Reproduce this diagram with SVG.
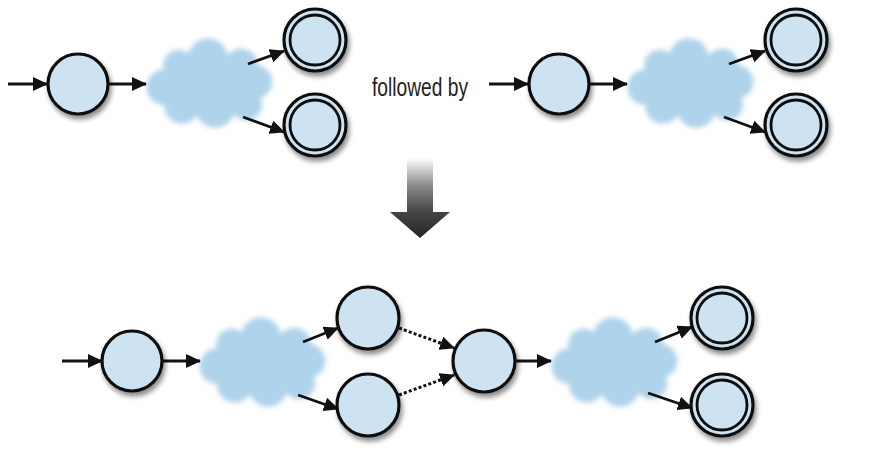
<svg xmlns="http://www.w3.org/2000/svg" xmlns:xlink="http://www.w3.org/1999/xlink" width="882" height="466" viewBox="0 0 882 466">
<style>
.st{fill:#cde3f1;stroke:#111;stroke-width:3.2}
.inner{fill:none;stroke:#111;stroke-width:2.8}
.edge{stroke:#111;stroke-width:2.8;fill:none;marker-end:url(#ah)}
.dot{stroke:#111;stroke-width:3;fill:none;stroke-dasharray:3 2.2;marker-end:url(#ah)}
.lbl{font-family:"Liberation Sans",Arial,sans-serif;font-size:25px;fill:#231f20}
</style>
<defs>
<marker id="ah" markerUnits="userSpaceOnUse" markerWidth="15" markerHeight="14" refX="14" refY="7" orient="auto">
<path d="M0,0 L15,7 L0,14 z" fill="#111"/>
</marker>
<filter id="sh" x="-30%" y="-30%" width="170%" height="170%">
<feDropShadow dx="2" dy="4" stdDeviation="2.5" flood-color="#000" flood-opacity="0.45"/>
</filter>
<filter id="blur" x="-20%" y="-20%" width="140%" height="140%">
<feGaussianBlur stdDeviation="2.6"/>
</filter>
<g id="cloudShape" fill="#afd3ea">
<ellipse cx="0" cy="0" rx="48" ry="30"/>
<circle cx="-2" cy="-24" r="19"/>
<circle cx="-30" cy="-17" r="15"/>
<circle cx="30" cy="-17" r="16"/>
<circle cx="-44" cy="4" r="17"/>
<circle cx="44" cy="-1" r="16"/>
<circle cx="-27" cy="22" r="17"/>
<circle cx="5" cy="24" r="19"/>
<circle cx="35" cy="21" r="15"/>
</g>
<linearGradient id="bigArrow" gradientUnits="userSpaceOnUse" x1="0" y1="158" x2="0" y2="238">
<stop offset="0" stop-color="#ffffff"/>
<stop offset="0.35" stop-color="#8a8a8a"/>
<stop offset="0.68" stop-color="#444"/>
<stop offset="1" stop-color="#262626"/>
</linearGradient>
</defs>
<rect width="882" height="466" fill="#fff"/>

<!-- clouds -->
<g id="cloud1" filter="url(#blur)"><use xlink:href="#cloudShape" transform="translate(210,83) scale(1.04)"/></g>
<g id="cloud2" filter="url(#blur)"><use xlink:href="#cloudShape" transform="translate(691,83) scale(1.04)"/></g>
<g id="cloud3" filter="url(#blur)"><use xlink:href="#cloudShape" transform="translate(263,362) scale(1.04)"/></g>
<g id="cloud4" filter="url(#blur)"><use xlink:href="#cloudShape" transform="translate(615,362) scale(1.04)"/></g>

<!-- connectors -->
<g id="connectors">
<line class="edge" x1="8" y1="84" x2="47" y2="84"/>
<line class="edge" x1="108" y1="84" x2="146" y2="84"/>
<line class="edge" x1="248" y1="64" x2="284" y2="51"/>
<line class="edge" x1="243" y1="117" x2="284" y2="132"/>

<line class="edge" x1="489" y1="84" x2="528" y2="84"/>
<line class="edge" x1="589" y1="84" x2="627" y2="84"/>
<line class="edge" x1="729" y1="64" x2="765" y2="51"/>
<line class="edge" x1="724" y1="117" x2="765" y2="132"/>

<line class="edge" x1="62" y1="361" x2="102" y2="361"/>
<line class="edge" x1="163" y1="361" x2="200" y2="361"/>
<line class="edge" x1="303" y1="342" x2="338" y2="328"/>
<line class="edge" x1="298" y1="395" x2="338" y2="409"/>
<line class="dot" x1="399" y1="328" x2="454" y2="348"/>
<line class="dot" x1="399" y1="395" x2="454" y2="375"/>
<line class="edge" x1="515" y1="361" x2="551" y2="361"/>
<line class="edge" x1="655" y1="342" x2="692" y2="327"/>
<line class="edge" x1="648" y1="393" x2="692" y2="408"/>
</g>

<!-- top-left automaton -->
<g id="s1" filter="url(#sh)"><circle class="st" cx="78" cy="84" r="30"/></g>
<g id="f1" filter="url(#sh)"><circle class="st" cx="315" cy="40" r="31"/><circle class="inner" cx="315" cy="40" r="25"/></g>
<g id="f2" filter="url(#sh)"><circle class="st" cx="315" cy="125" r="31"/><circle class="inner" cx="315" cy="125" r="25"/></g>

<g id="label"><text class="lbl" x="372" y="96" textLength="96" lengthAdjust="spacingAndGlyphs">followed by</text></g>

<!-- top-right automaton -->
<g id="s2" filter="url(#sh)"><circle class="st" cx="559" cy="84" r="30"/></g>
<g id="f3" filter="url(#sh)"><circle class="st" cx="796" cy="40" r="31"/><circle class="inner" cx="796" cy="40" r="25"/></g>
<g id="f4" filter="url(#sh)"><circle class="st" cx="796" cy="125" r="31"/><circle class="inner" cx="796" cy="125" r="25"/></g>

<!-- big arrow -->
<g id="bigarrow">
<path d="M407,158 L433,158 L433,212 L450,212 L420,238 L390,212 L407,212 z" fill="url(#bigArrow)"/>
</g>

<!-- bottom automaton -->
<g id="b1" filter="url(#sh)"><circle class="st" cx="132" cy="361" r="30"/></g>
<g id="b2" filter="url(#sh)"><circle class="st" cx="368" cy="318" r="31"/></g>
<g id="b3" filter="url(#sh)"><circle class="st" cx="368" cy="405" r="31"/></g>
<g id="b4" filter="url(#sh)"><circle class="st" cx="484" cy="361" r="31"/></g>
<g id="b5" filter="url(#sh)"><circle class="st" cx="722" cy="318" r="31"/><circle class="inner" cx="722" cy="318" r="25"/></g>
<g id="b6" filter="url(#sh)"><circle class="st" cx="722" cy="405" r="31"/><circle class="inner" cx="722" cy="405" r="25"/></g>
</svg>
